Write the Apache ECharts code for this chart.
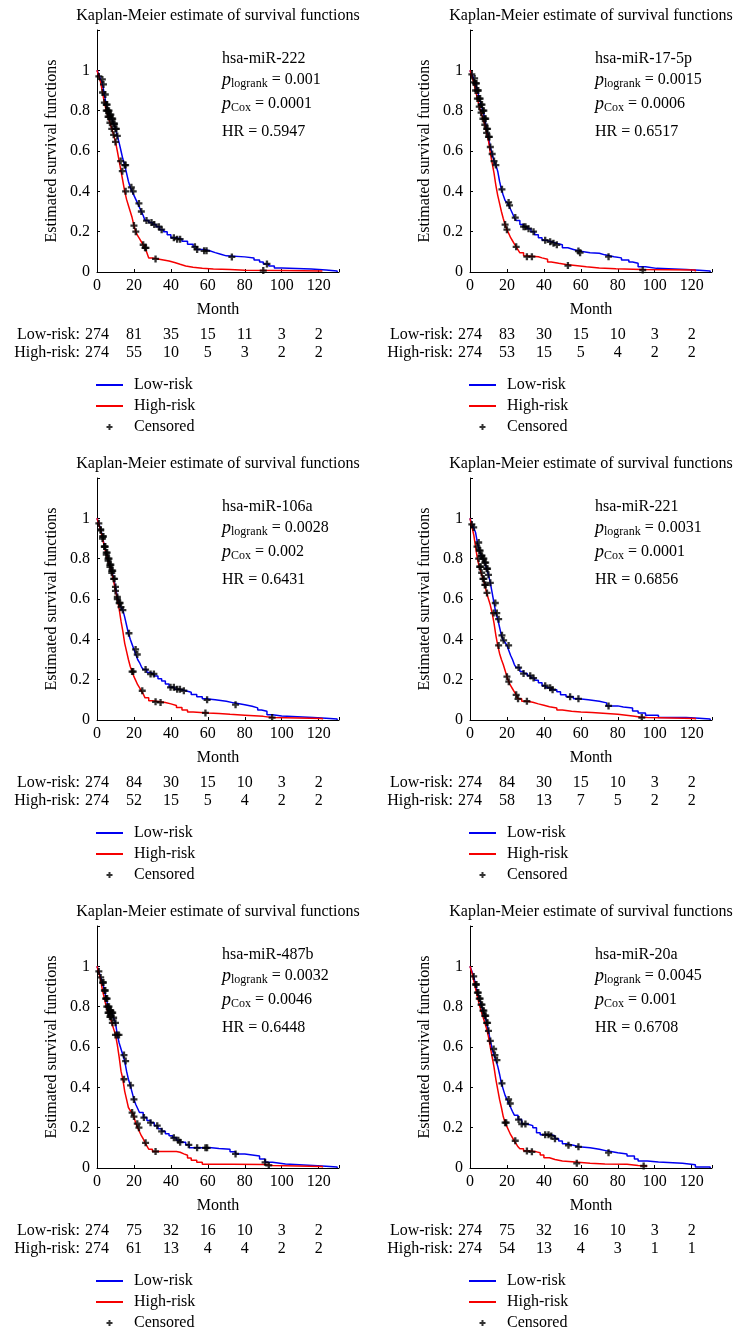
<!DOCTYPE html>
<html><head><meta charset="utf-8">
<script src="https://cdn.jsdelivr.net/npm/echarts@6/dist/echarts.min.js"></script>
<style>html,body{margin:0;padding:0;background:#fff}#c{width:746px;height:1340px}</style>
</head><body><div id="c"></div>
<script>
const FONT = '"Liberation Serif", "Times New Roman", serif';
const xTicks = [0, 20, 40, 60, 80, 100, 120];
const titleText = 'Kaplan-Meier estimate of survival functions';
const mirNames = ['hsa-miR-222', 'hsa-miR-17-5p', 'hsa-miR-106a', 'hsa-miR-221', 'hsa-miR-487b', 'hsa-miR-20a'];
const pLogrank = ['0.001', '0.0015', '0.0028', '0.0031', '0.0032', '0.0045'];
const pCox = ['0.0001', '0.0006', '0.002', '0.0001', '0.0046', '0.001'];
const hazardRatios = ['0.5947', '0.6517', '0.6431', '0.6856', '0.6448', '0.6708'];

const lowAtRisk1 = [274, 81, 35, 15, 11, 3, 2];
const highAtRisk1 = [274, 55, 10, 5, 3, 2, 2];
const lowAtRisk2 = [274, 83, 30, 15, 10, 3, 2];
const highAtRisk2 = [274, 53, 15, 5, 4, 2, 2];
const lowAtRisk3 = [274, 84, 30, 15, 10, 3, 2];
const highAtRisk3 = [274, 52, 15, 5, 4, 2, 2];
const lowAtRisk4 = [274, 84, 30, 15, 10, 3, 2];
const highAtRisk4 = [274, 58, 13, 7, 5, 2, 2];
const lowAtRisk5 = [274, 75, 32, 16, 10, 3, 2];
const highAtRisk5 = [274, 61, 13, 4, 4, 2, 2];
const lowAtRisk6 = [274, 75, 32, 16, 10, 3, 2];
const highAtRisk6 = [274, 54, 13, 4, 3, 1, 1];

// Kaplan-Meier step points [month, survival after event]
const low1 = [[0,1],[1,0.98],[2,0.955],[3,0.93],[4,0.88],[5,0.83],[6,0.8],[7,0.78],[8,0.76],[9,0.735],[10,0.71],[11,0.675],[12,0.64],[13,0.6],[14,0.56],[15,0.53],[16,0.49],[17,0.45],[18,0.42],[19,0.4],[20,0.38],[21,0.36],[22,0.34],[23,0.32],[24,0.3],[25,0.28],[26,0.255],[28,0.245],[30,0.235],[32,0.225],[34,0.21],[36,0.2],[38,0.185],[40,0.17],[43,0.163],[46,0.152],[49,0.138],[52,0.125],[54,0.112],[58,0.105],[61,0.096],[64,0.088],[67,0.08],[70,0.075],[80,0.07],[85,0.06],[88,0.05],[90,0.04],[93,0.03],[96,0.02],[100,0.015],[116,0.01],[124,0.005],[130,0]];
const high1 = [[0,1],[1,0.97],[2,0.94],[3,0.89],[4,0.84],[5,0.8],[6,0.77],[7,0.74],[8,0.71],[9,0.68],[10,0.645],[11,0.6],[12,0.55],[13,0.5],[14,0.45],[15,0.4],[16,0.36],[17,0.33],[18,0.3],[19,0.27],[20,0.23],[21,0.2],[22,0.18],[23,0.165],[24,0.15],[25,0.135],[26,0.12],[27,0.095],[28,0.07],[30,0.065],[33,0.06],[36,0.055],[39,0.047],[42,0.038],[45,0.03],[48,0.024],[52,0.019],[57,0.015],[63,0.012],[72,0.009],[80,0.007],[100,0.005],[122,0.002]];
const low2 = [[0,1],[1,0.98],[2,0.96],[3,0.935],[4,0.9],[5,0.86],[6,0.83],[7,0.8],[8,0.76],[9,0.71],[10,0.67],[11,0.62],[12,0.585],[13,0.55],[14,0.53],[15,0.5],[16,0.45],[17,0.41],[18,0.38],[19,0.355],[20,0.345],[21,0.33],[22,0.31],[23,0.29],[24,0.27],[25,0.255],[27,0.235],[29,0.225],[31,0.215],[33,0.2],[35,0.185],[37,0.17],[39,0.158],[41,0.15],[44,0.142],[47,0.135],[50,0.12],[53,0.112],[56,0.104],[59,0.096],[65,0.093],[70,0.085],[73,0.076],[78,0.07],[82,0.06],[86,0.05],[88,0.043],[91,0.026],[95,0.018],[101,0.013],[117,0.009],[124,0.005],[130,0]];
const high2 = [[0,1],[1,0.97],[2,0.94],[3,0.9],[4,0.86],[5,0.82],[6,0.79],[7,0.76],[8,0.73],[9,0.69],[10,0.65],[11,0.59],[12,0.54],[13,0.49],[14,0.43],[15,0.38],[16,0.34],[17,0.3],[18,0.265],[19,0.235],[20,0.21],[21,0.19],[22,0.17],[23,0.155],[24,0.14],[25,0.125],[26,0.11],[27,0.095],[29,0.08],[30,0.076],[37,0.07],[39,0.063],[42,0.05],[44,0.043],[48,0.037],[52,0.032],[57,0.026],[63,0.02],[70,0.016],[79,0.013],[93,0.01],[122,0.003]];
const low3 = [[0,1],[1,0.975],[2,0.945],[3,0.91],[4,0.86],[5,0.83],[6,0.8],[7,0.77],[8,0.74],[9,0.7],[10,0.66],[11,0.61],[12,0.58],[13,0.56],[14,0.545],[15,0.51],[16,0.47],[17,0.43],[18,0.4],[19,0.375],[20,0.35],[21,0.325],[22,0.3],[23,0.285],[24,0.265],[25,0.25],[27,0.235],[29,0.228],[31,0.218],[33,0.205],[35,0.193],[37,0.178],[39,0.162],[42,0.152],[45,0.145],[48,0.138],[51,0.127],[54,0.115],[57,0.105],[59,0.1],[64,0.093],[70,0.085],[74,0.076],[80,0.068],[84,0.06],[87,0.05],[89,0.043],[92,0.026],[95,0.02],[100,0.013],[117,0.009],[124,0.005],[130,0]];
const high3 = [[0,1],[1,0.97],[2,0.94],[3,0.9],[4,0.86],[5,0.82],[6,0.79],[7,0.76],[8,0.73],[9,0.69],[10,0.64],[11,0.6],[12,0.55],[13,0.49],[14,0.44],[15,0.38],[16,0.34],[17,0.3],[18,0.265],[19,0.24],[20,0.215],[21,0.195],[22,0.175],[23,0.16],[24,0.145],[25,0.13],[26,0.11],[28,0.095],[30,0.09],[34,0.087],[37,0.08],[40,0.072],[43,0.062],[46,0.05],[49,0.04],[52,0.035],[60,0.032],[66,0.028],[72,0.024],[80,0.018],[90,0.012],[95,0.007],[122,0.003]];
const low4 = [[0,1],[1,0.97],[2,0.955],[3,0.93],[4,0.88],[5,0.84],[6,0.815],[7,0.8],[8,0.78],[9,0.75],[10,0.72],[11,0.68],[12,0.63],[13,0.58],[14,0.53],[15,0.5],[16,0.46],[17,0.42],[18,0.395],[19,0.385],[20,0.37],[21,0.345],[22,0.32],[23,0.3],[24,0.275],[25,0.26],[27,0.24],[29,0.23],[31,0.22],[33,0.208],[35,0.197],[37,0.185],[39,0.17],[41,0.16],[44,0.15],[47,0.14],[49,0.125],[52,0.115],[56,0.105],[59,0.1],[64,0.093],[70,0.085],[74,0.07],[80,0.065],[83,0.06],[88,0.045],[91,0.035],[95,0.023],[102,0.013],[117,0.009],[124,0.005],[130,0]];
const high4 = [[0,1],[1,0.96],[2,0.92],[3,0.86],[4,0.8],[5,0.76],[6,0.73],[7,0.7],[8,0.67],[9,0.63],[10,0.6],[11,0.57],[12,0.53],[13,0.48],[14,0.42],[15,0.37],[16,0.33],[17,0.3],[18,0.275],[19,0.245],[20,0.215],[21,0.19],[22,0.17],[23,0.155],[24,0.14],[25,0.125],[26,0.105],[28,0.093],[31,0.088],[34,0.08],[37,0.073],[40,0.066],[43,0.06],[47,0.05],[50,0.043],[55,0.04],[60,0.037],[66,0.033],[72,0.028],[80,0.02],[88,0.015],[92,0.012],[96,0.007],[122,0.003]];
const low5 = [[0,1],[1,0.975],[2,0.945],[3,0.92],[4,0.88],[5,0.84],[6,0.8],[7,0.78],[8,0.77],[9,0.745],[10,0.72],[11,0.66],[12,0.62],[13,0.59],[14,0.56],[15,0.53],[16,0.48],[17,0.44],[18,0.41],[19,0.375],[20,0.34],[21,0.315],[22,0.295],[23,0.275],[25,0.25],[27,0.235],[29,0.225],[31,0.21],[33,0.195],[35,0.182],[37,0.17],[39,0.16],[41,0.15],[43,0.138],[45,0.128],[48,0.115],[50,0.1],[58,0.1],[62,0.097],[66,0.093],[72,0.08],[75,0.07],[80,0.065],[84,0.06],[88,0.045],[91,0.028],[95,0.02],[102,0.013],[117,0.009],[124,0.005],[130,0]];
const high5 = [[0,1],[1,0.97],[2,0.93],[3,0.88],[4,0.84],[5,0.8],[6,0.77],[7,0.75],[8,0.72],[9,0.69],[10,0.66],[11,0.61],[12,0.55],[13,0.48],[14,0.44],[15,0.38],[16,0.34],[17,0.3],[18,0.285],[19,0.275],[20,0.255],[21,0.22],[22,0.2],[23,0.18],[24,0.16],[25,0.145],[26,0.125],[27,0.11],[28,0.093],[30,0.082],[43,0.078],[45,0.07],[47,0.063],[49,0.05],[51,0.038],[54,0.028],[57,0.018],[73,0.017],[91,0.013],[95,0.007],[122,0.003]];
const low6 = [[0,1],[1,0.975],[2,0.95],[3,0.91],[4,0.87],[5,0.84],[6,0.81],[7,0.78],[8,0.755],[9,0.72],[10,0.68],[11,0.63],[12,0.59],[13,0.56],[14,0.535],[15,0.505],[16,0.465],[17,0.42],[18,0.39],[19,0.36],[20,0.34],[21,0.32],[22,0.3],[23,0.28],[24,0.262],[26,0.24],[28,0.218],[31,0.21],[34,0.2],[36,0.175],[38,0.165],[44,0.159],[46,0.145],[48,0.134],[50,0.12],[52,0.113],[56,0.105],[59,0.1],[65,0.093],[70,0.085],[74,0.076],[80,0.07],[85,0.06],[89,0.045],[91,0.035],[96,0.03],[102,0.023],[115,0.016],[122,0.005],[130,0]];
const high6 = [[0,1],[1,0.97],[2,0.93],[3,0.89],[4,0.85],[5,0.81],[6,0.78],[7,0.75],[8,0.72],[9,0.69],[10,0.65],[11,0.6],[12,0.55],[13,0.5],[14,0.44],[15,0.39],[16,0.34],[17,0.3],[18,0.255],[19,0.225],[20,0.205],[21,0.185],[22,0.165],[23,0.15],[24,0.135],[25,0.12],[26,0.105],[27,0.095],[29,0.084],[33,0.08],[36,0.076],[38,0.065],[40,0.051],[43,0.042],[46,0.035],[50,0.03],[57,0.023],[65,0.02],[73,0.018],[85,0.013],[91,0.01],[96,0.007]];

// censoring times (months)
const censLow1 = [2.9,3.5,4.5,5,5.5,6,6.5,7,7.5,8,8.5,9,9.5,10,10.5,11,15,15.5,18.6,19.6,22.7,24,26.8,29.5,31,33.5,35,41.6,43.4,45,53,54.2,58,59.3,73,92];
const censHigh1 = [1,3,4,5,5.5,6,6.5,7,8,9,10,12.8,13.7,15.5,20,21,25,26,26.5,31.7,90];
const censLow2 = [1,2.5,3,3.5,4,4.5,5,5.5,6,6.5,7,7.5,8,8.5,9,9.5,10,10.5,11,12,13,14,17.3,20.9,21.4,24.5,29,30,31.7,34.4,40.7,43.4,45.2,47,58.7,59.6,75];
const censHigh2 = [2,3,4,5,6,7,8,9,19,20,25,30.8,33.5,53,93.5];
const censLow3 = [1,2,3,3.5,4,4.5,5,5.5,6,6.5,7,7.5,8,8.5,9,9.5,10,11,12,12.5,13,14,17.3,20.9,21.8,26.3,29,30.8,39.8,41.6,43.4,44.9,47,59.6,75];
const censHigh3 = [2,3,4,5,6,7,8,10,11,19,19.6,24.5,31.7,34.4,58.7,94.8];
const censLow4 = [1,2,4.7,5,5.5,6,6.5,7,7.5,8,8.5,9,9.5,10,11,13.7,14.5,15.5,17.3,18.2,20.9,26.3,29,32.6,34.4,40.7,43.4,44.7,54.2,58.7,75];
const censHigh4 = [3.8,4.7,5.2,5.8,6.3,7,7.5,8,8.5,9.2,12.8,15.5,20,21,25,26,30.8,93];
const censLow5 = [1,2,3,3.5,4,4.5,5,5.5,6,6.5,7,7.5,8,8.5,9,10,11,11.9,14.6,15.5,18.2,20,25.4,29,32.6,35,41.6,44,45,49.7,54.2,58.7,59.6,75,91];
const censHigh5 = [4.7,5.3,6,6.5,7,7.5,8.3,10,14.6,19,20,21.8,22.7,26.3,31.7,93];
const censLow6 = [2,3,3.5,4,4.5,5,5.5,6,6.5,7,7.5,8,8.5,9,9.5,10,11,12.8,13.5,14.6,17.3,20.9,21.8,26.3,28,30,40.7,42.5,44,46,53.3,58.7,75];
const censHigh6 = [19,19.6,24.5,30.8,33.5,57.8,94];

const lows = [low1, low2, low3, low4, low5, low6];
const highs = [high1, high2, high3, high4, high5, high6];
const censLows = [censLow1, censLow2, censLow3, censLow4, censLow5, censLow6];
const censHighs = [censHigh1, censHigh2, censHigh3, censHigh4, censHigh5, censHigh6];
const lowRisks = [lowAtRisk1, lowAtRisk2, lowAtRisk3, lowAtRisk4, lowAtRisk5, lowAtRisk6];
const highRisks = [highAtRisk1, highAtRisk2, highAtRisk3, highAtRisk4, highAtRisk5, highAtRisk6];

// layout
const colLeft = [97, 470];
const rowTop = [30, 478, 926];
const gridW = 242, gridH = 242;
const BLUE = '#0000f0', RED = '#f50000';
const PLUS = 'path://M2,0H4V2H6V4H4V6H2V4H0V2H2Z';

function stepAt(curve, t) {
  let v = curve[0][1];
  for (const p of curve) { if (p[0] <= t) v = p[1]; else break; }
  return v;
}

const panels = [0,1,2,3,4,5].map(i => ({ col: i % 2, row: Math.floor(i / 2) }));
const txt = { fontFamily: FONT, fontSize: 16, color: '#000' };

const option = {
  animation: false,
  backgroundColor: '#fff',
  grid: panels.map(p => ({ left: colLeft[p.col], top: rowTop[p.row], width: gridW, height: gridH })),
  xAxis: panels.map((p, i) => ({
    gridIndex: i, type: 'value', min: 0, max: 131, interval: 20,
    axisLine: { show: true, lineStyle: { color: '#000', width: 1 } },
    axisTick: { show: true, inside: true, length: 3, lineStyle: { color: '#000' } },
    axisLabel: Object.assign({ margin: 6, formatter: v => (xTicks.indexOf(v) >= 0 ? String(v) : '') }, txt),
    splitLine: { show: false },
    name: 'Month', nameLocation: 'middle', nameGap: 30, nameTextStyle: txt
  })),
  yAxis: panels.map((p, i) => ({
    gridIndex: i, type: 'value', min: 0, max: 1.2, interval: 0.2,
    axisLine: { show: true, lineStyle: { color: '#000', width: 1 } },
    axisTick: { show: true, inside: true, length: 3, lineStyle: { color: '#000' } },
    axisLabel: Object.assign({ margin: 7, formatter: v => (v > 1.05 ? '' : String(Math.round(v * 10) / 10)) }, txt),
    splitLine: { show: false },
    name: 'Estimated survival functions', nameLocation: 'middle', nameGap: 37, nameRotate: 90, nameTextStyle: txt
  })),
  legend: panels.map(p => ({
    left: colLeft[p.col] - 2, top: rowTop[p.row] + 347, orient: 'vertical', padding: 0,
    itemWidth: 27, itemHeight: 6, itemGap: 5, selectedMode: false,
    data: [
      { name: 'Low-risk', itemStyle: { opacity: 0 } },
      { name: 'High-risk', itemStyle: { opacity: 0 } },
      { name: 'Censored' }
    ],
    textStyle: Object.assign({ padding: [0, 0, 0, 6] }, txt)
  })),
  series: []
};

panels.forEach((p, i) => {
  option.series.push({
    type: 'line', name: 'Low-risk', xAxisIndex: i, yAxisIndex: i, data: lows[i], step: 'end',
    symbol: 'none', showSymbol: false, lineStyle: { color: BLUE, width: 1.5 }, itemStyle: { color: BLUE }, z: 2
  });
  option.series.push({
    type: 'line', name: 'High-risk', xAxisIndex: i, yAxisIndex: i, data: highs[i], step: 'end',
    symbol: 'none', showSymbol: false, lineStyle: { color: RED, width: 1.5 }, itemStyle: { color: RED }, z: 3
  });
  const cens = censLows[i].map(t => [t, stepAt(lows[i], t)]).concat(censHighs[i].map(t => [t, stepAt(highs[i], t)]));
  option.series.push({
    type: 'scatter', name: 'Censored', xAxisIndex: i, yAxisIndex: i, data: cens,
    symbol: PLUS, symbolSize: 7, symbolKeepAspect: true, itemStyle: { color: '#000' }, z: 4
  });
});

const chart = echarts.init(document.getElementById('c'), null, { renderer: 'canvas' });
chart.setOption(option);

const graphics = [];
panels.forEach((p, i) => {
  const gl = colLeft[p.col], gt = rowTop[p.row];
  graphics.push({ type: 'text', x: gl + 121, y: gt - 14, style: { text: titleText, fontFamily: FONT, fontSize: 16, fill: '#000', align: 'center', verticalAlign: 'middle' } });
  const ax = gl + 125;
  graphics.push({ type: 'text', x: ax, y: gt + 29, style: { text: mirNames[i], fontFamily: FONT, fontSize: 16, fill: '#000', align: 'left', verticalAlign: 'middle' } });
  const rich = {
    i: { fontFamily: FONT, fontStyle: 'italic', fontSize: 18, lineHeight: 20, fill: '#000' },
    s: { fontFamily: FONT, fontSize: 12, lineHeight: 12, verticalAlign: 'bottom', fill: '#000' },
    n: { fontFamily: FONT, fontSize: 16, lineHeight: 20, fill: '#000' }
  };
  graphics.push({ type: 'text', x: ax, y: gt + 50, style: { text: '{i|p}{s|logrank}{n| = ' + pLogrank[i] + '}', rich: rich, align: 'left', verticalAlign: 'middle' } });
  graphics.push({ type: 'text', x: ax, y: gt + 74, style: { text: '{i|p}{s|Cox}{n| = ' + pCox[i] + '}', rich: rich, align: 'left', verticalAlign: 'middle' } });
  graphics.push({ type: 'text', x: ax, y: gt + 101.5, style: { text: 'HR = ' + hazardRatios[i], fontFamily: FONT, fontSize: 16, fill: '#000', align: 'left', verticalAlign: 'middle' } });
  const x0 = chart.convertToPixel({ xAxisIndex: i }, 0);
  graphics.push({ type: 'text', x: x0 - 17, y: gt + 305, style: { text: 'Low-risk:', fontFamily: FONT, fontSize: 16, fill: '#000', align: 'right', verticalAlign: 'middle' } });
  graphics.push({ type: 'text', x: x0 - 17, y: gt + 322.5, style: { text: 'High-risk:', fontFamily: FONT, fontSize: 16, fill: '#000', align: 'right', verticalAlign: 'middle' } });
  xTicks.forEach((t, k) => {
    const px = chart.convertToPixel({ xAxisIndex: i }, t);
    graphics.push({ type: 'text', x: px, y: gt + 305, style: { text: String(lowRisks[i][k]), fontFamily: FONT, fontSize: 16, fill: '#000', align: 'center', verticalAlign: 'middle' } });
    graphics.push({ type: 'text', x: px, y: gt + 322.5, style: { text: String(highRisks[i][k]), fontFamily: FONT, fontSize: 16, fill: '#000', align: 'center', verticalAlign: 'middle' } });
  });
});
chart.setOption({ graphic: graphics });
</script>
</body></html>
